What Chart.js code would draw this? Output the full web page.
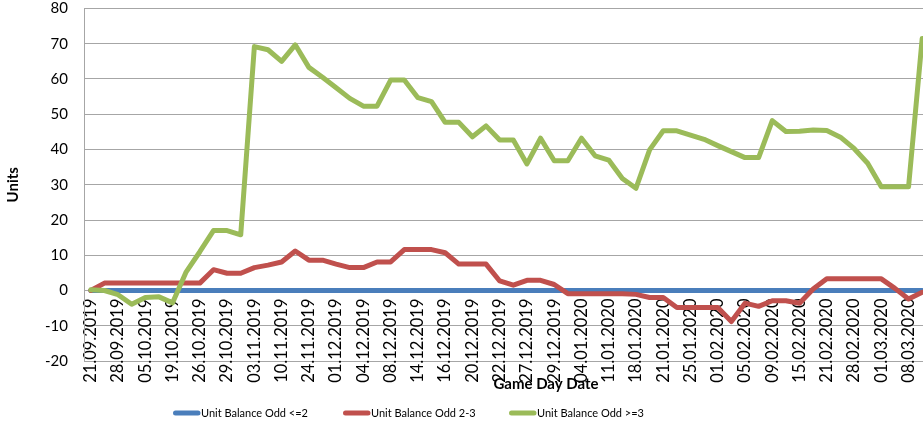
<!DOCTYPE html>
<html lang="en">
<head>
    <meta charset="UTF-8">
    <title>Unit Balance</title>
    <style>
        html, body {
            margin: 0;
            padding: 0;
            overflow: hidden;
            background: #fff;
        }
        /* canvas is a bit wider than the window: the original chart is cut at the right edge */
        #wrap {
            width: 940px;
            height: 427px;
        }
    </style>
    <script src="https://cdn.jsdelivr.net/npm/chart.js"></script>
</head>
<body>
    <div id="wrap"><canvas id="chart" width="940" height="427"></canvas></div>
    <script>
        // dates shown under the axis (every second game day carries a label)
        const dateLabels = [
            '21.09.2019', '28.09.2019', '05.10.2019', '19.10.2019', '26.10.2019', '29.10.2019',
            '03.11.2019', '10.11.2019', '24.11.2019', '01.12.2019', '04.12.2019', '08.12.2019',
            '14.12.2019', '16.12.2019', '20.12.2019', '22.12.2019', '27.12.2019', '29.12.2019',
            '04.01.2020', '11.01.2020', '18.01.2020', '21.01.2020', '25.01.2020', '01.02.2020',
            '05.02.2020', '09.02.2020', '15.02.2020', '21.02.2020', '28.02.2020', '01.03.2020',
            '08.03.2020'
        ];

        const seriesNames = ['Unit Balance Odd <=2', 'Unit Balance Odd 2-3', 'Unit Balance Odd >=3'];

        const balanceLow = [
            0, 0, 0, 0, 0, 0, 0, 0, 0, 0, 0, 0, 0, 0, 0, 0, 0, 0, 0, 0, 0,
            0, 0, 0, 0, 0, 0, 0, 0, 0, 0, 0, 0, 0, 0, 0, 0, 0, 0, 0, 0,
            0, 0, 0, 0, 0, 0, 0, 0, 0, 0, 0, 0, 0, 0, 0, 0, 0, 0, 0, 0, 0
        ];

        const balanceMid = [
            0, 2.1, 2.1, 2.1, 2.1, 2.1, 2.1, 2.1, 2.1, 5.9, 4.9, 4.9, 6.5, 7.2, 8.1, 11.2,
            8.6, 8.6, 7.5, 6.5, 6.5, 8.1, 8.1, 11.6, 11.6, 11.6, 10.7, 7.5, 7.5, 7.5, 2.7,
            1.5, 2.9, 2.9, 1.7, -0.9, -0.9, -0.9, -0.9, -0.9, -1.1, -2, -2, -4.8, -4.8, -4.8,
            -4.8, -8.8, -3.6, -4.5, -2.9, -2.9, -3.6, 0.4, 3.3, 3.3, 3.3, 3.3, 3.3, 0.6, -2.4, -0.5
        ];

        const balanceHigh = [
            0.2, 0, -1.2, -3.9, -2, -1.8, -3.5, 5.3, 11, 17, 17, 15.8, 69.2, 68.3, 65, 69.7,
            63.3, 60.5, 57.5, 54.5, 52.3, 52.3, 59.7, 59.7, 54.7, 53.6, 47.7, 47.7, 43.6, 46.7,
            42.7, 42.7, 35.9, 43.2, 36.8, 36.8, 43.2, 38.2, 37, 31.8, 29, 39.9, 45.3, 45.3,
            44.1, 42.9, 41.1, 39.4, 37.7, 37.7, 48.2, 45.1, 45.2, 45.5, 45.4, 43.5, 40.3, 36.1,
            29.4, 29.4, 29.4, 71.5
        ];

        // one category per game day, only the even ones have a date printed
        const categories = [];
        dateLabels.forEach(d => { categories.push(d); categories.push(''); });

        const colors = ['#4a7ebb', '#c0504d', '#9bbb59'];

        // axis title under the dates and the legend, placed like in the Excel export
        const legendLeft = [173, 343, 509];
        const extrasPlugin = {
            id: 'extras',
            afterDraw(chart) {
                const ctx = chart.ctx;
                ctx.save();
                ctx.fillStyle = '#000';
                ctx.textBaseline = 'middle';
                ctx.textAlign = 'center';
                ctx.font = 'bold 15px Lato';
                ctx.fillText('Game Day Date', 546, 384);

                ctx.font = '11px Lato';
                ctx.textAlign = 'left';
                chart.data.datasets.forEach((ds, i) => {
                    const x = legendLeft[i];
                    ctx.strokeStyle = ds.borderColor;
                    ctx.lineWidth = 5;
                    ctx.lineCap = 'round';
                    ctx.beginPath();
                    ctx.moveTo(x + 2.5, 413);
                    ctx.lineTo(x + 25, 413);
                    ctx.stroke();
                    ctx.fillText(ds.label, x + 28, 413);
                });
                ctx.restore();
            }
        };

        const datasets = [balanceLow, balanceMid, balanceHigh].map((values, i) => ({
            label: seriesNames[i],
            data: values,
            borderColor: colors[i],
            backgroundColor: colors[i],
            borderWidth: 5,
            borderJoinStyle: 'round',
            borderCapStyle: 'round',
            pointRadius: 0,
            tension: 0,
            order: 2 - i
        }));

        new Chart(document.getElementById('chart').getContext('2d'), {
            type: 'line',
            data: { labels: categories, datasets: datasets },
            options: {
                responsive: false,
                animation: false,
                layout: { padding: { top: 8.5, right: 11, bottom: 66, left: 0 } },
                plugins: { legend: { display: false }, tooltip: { enabled: false } },
                scales: {
                    x: {
                        type: 'category',
                        position: { y: 0 },
                        offset: true,
                        grid: { display: false, drawTicks: false },
                        border: { display: false },
                        ticks: {
                            autoSkip: false,
                            minRotation: 90,
                            maxRotation: 90,
                            padding: 8,
                            color: '#000',
                            font: { family: 'Lato', size: 16.5 }
                        },
                        afterFit(scale) {
                            scale.paddingLeft = 0;
                            scale.paddingRight = 0;
                        }
                    },
                    y: {
                        min: -20,
                        max: 80,
                        ticks: {
                            stepSize: 10,
                            padding: 16,
                            color: '#000',
                            font: { family: 'Lato', size: 15 }
                        },
                        grid: { color: '#a6a6a6', drawTicks: false },
                        border: { color: '#a6a6a6' },
                        title: {
                            display: true,
                            text: 'Units',
                            color: '#000',
                            font: { family: 'Lato', size: 15, weight: 'bold' },
                            padding: { top: 4, bottom: 0 }
                        },
                        afterFit(scale) {
                            scale.width = 84;
                            scale.paddingTop = 0;
                            scale.paddingBottom = 0;
                        }
                    }
                }
            },
            plugins: [extrasPlugin]
        });
    </script>
</body>
</html>
